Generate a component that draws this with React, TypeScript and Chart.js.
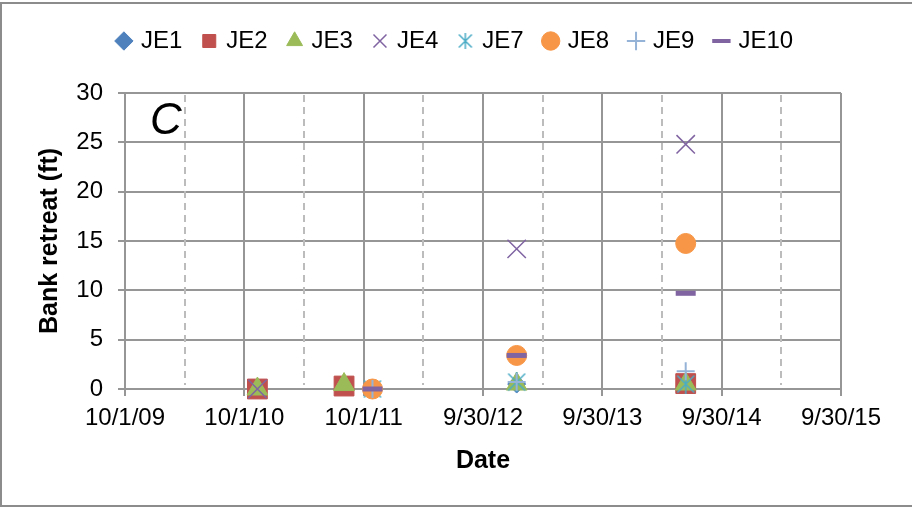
import React, { useEffect, useRef } from 'react';
import { Chart, registerables } from 'chart.js';

Chart.register(...registerables);

// ---- data ----
const seriesNames = ['JE1', 'JE2', 'JE3', 'JE4', 'JE7', 'JE8', 'JE9', 'JE10'];
const surveyDates = ['2010-11-10', '2011-08-02', '2011-10-28', '2013-01-11', '2014-06-12'];
const je1 = [0, 0.3, null, 0.5, 0.5];
const je2 = [0, 0.3, null, null, 0.55];
const je3 = [0, 0.45, null, 0.5, 0.5];
const je4 = [0, null, null, 14.2, 24.8];
const je7 = [null, null, 0, 0.7, 0.5];
const je8 = [null, null, 0, 3.4, 14.75];
const je9 = [null, null, 0, 0.7, 1.8];
const je10 = [null, null, 0, 3.4, 9.7];
const seriesValues = [je1, je2, je3, je4, je7, je8, je9, je10];

const xTickDates = ['2009-10-01', '2010-10-01', '2011-10-01', '2012-09-30', '2013-09-30', '2014-09-30', '2015-09-30'];
const xTickLabels = ['10/1/09', '10/1/10', '10/1/11', '9/30/12', '9/30/13', '9/30/14', '9/30/15'];
const yTicks = [0, 5, 10, 15, 20, 25, 30];

const toDay = (s: string) => {
  const [y, m, d] = s.split('-').map(Number);
  return Date.UTC(y, m - 1, d) / 86400000;
};

// ---- styles ----
const FONT = "'Liberation Sans', Arial, sans-serif";
const GRID = '#969696';
const markerStyles = [
  { style: 'rectRot', radius: 9, color: '#4f81bd', width: 1 },
  { style: 'rect', radius: 14, color: '#c0504d', width: 1 },
  { style: 'triangle', radius: 12, color: '#9bbb59', width: 1 },
  { style: 'crossRot', radius: 13, color: '#8064a2', width: 1.5 },
  { style: 'star', radius: 10, color: '#4bacc6', width: 1.5 },
  { style: 'circle', radius: 10, color: '#f79646', width: 1 },
  { style: 'cross', radius: 9, color: '#95b3d7', width: 2 },
  { style: 'line', radius: 10, color: '#8064a2', width: 5 },
];

function makeStar(size: number, color: string, lw: number) {
  const c = document.createElement('canvas');
  c.width = size;
  c.height = size;
  const g = c.getContext('2d')!;
  g.strokeStyle = color;
  g.lineWidth = lw;
  const m = size / 2;
  const e = 1.5;
  g.beginPath();
  g.moveTo(m, 0);
  g.lineTo(m, size);
  g.moveTo(e, e);
  g.lineTo(size - e, size - e);
  g.moveTo(size - e, e);
  g.lineTo(e, size - e);
  g.stroke();
  return c;
}

export default function App() {
  const ref = useRef<HTMLCanvasElement>(null);

  useEffect(() => {
    document.body.style.margin = '0';
    const canvas = ref.current!;
    const xTicks = xTickDates.map(toDay);
    const xDays = surveyDates.map(toDay);
    const starBig = makeStar(20, '#4bacc6', 1.5);
    const starSmall = makeStar(16, '#4bacc6', 1.5);

    const datasets = seriesNames.map((name, i) => {
      const ms = markerStyles[i];
      const data = seriesValues[i]
        .map((v, j) => (v === null ? null : { x: xDays[j], y: v }))
        .filter((p) => p !== null);
      return {
        label: name,
        data,
        showLine: false,
        pointStyle: ms.style === 'star' ? starBig : ms.style,
        pointRadius: ms.radius,
        pointHoverRadius: ms.radius,
        backgroundColor: ms.color,
        borderColor: ms.color,
        pointBorderWidth: ms.width,
        borderWidth: ms.width,
        order: seriesNames.length - i,
        clip: false as any,
      };
    });

    const legendWidths = [1, 1, 1, 1.5, 1.5, 1, 2, 4];

    const decor = {
      id: 'decor',
      beforeDatasetsDraw(chart: any) {
        const { ctx, chartArea } = chart;
        const xs = chart.scales.x;
        ctx.save();
        ctx.strokeStyle = '#bcbcbc';
        ctx.lineWidth = 2;
        ctx.setLineDash([7, 5]);
        for (let i = 0; i < xTicks.length - 1; i++) {
          const px = Math.round(xs.getPixelForValue((xTicks[i] + xTicks[i + 1]) / 2));
          ctx.beginPath();
          ctx.moveTo(px, chartArea.top + 2);
          ctx.lineTo(px, chartArea.bottom - 4);
          ctx.stroke();
        }
        ctx.restore();
        ctx.save();
        ctx.fillStyle = '#000';
        ctx.font = `italic 44px ${FONT}`;
        ctx.textAlign = 'center';
        ctx.textBaseline = 'middle';
        ctx.fillText('C', chartArea.left + 41, chartArea.top + 29);
        ctx.restore();
      },
      afterDraw(chart: any) {
        const { ctx } = chart;
        ctx.save();
        ctx.strokeStyle = '#8c8c8c';
        ctx.lineWidth = 2;
        ctx.strokeRect(1, 3, 920, 503);
        ctx.restore();
      },
    };

    const chart = new Chart(canvas, {
      type: 'scatter',
      data: { datasets: datasets as any },
      plugins: [decor],
      options: {
        animation: false,
        responsive: false,
        devicePixelRatio: 1,
        layout: { padding: { top: 7, right: 0, bottom: 0, left: 0 } },
        plugins: {
          tooltip: { enabled: false },
          legend: {
            position: 'top',
            labels: {
              color: '#000',
              font: { family: FONT, size: 24 },
              usePointStyle: true,
              boxWidth: 10,
              boxHeight: 13,
              padding: 22,
              generateLabels: (ch: any) =>
                ch.data.datasets.map((ds: any, i: number) => ({
                  text: ds.label,
                  fillStyle: ds.backgroundColor,
                  strokeStyle: ds.borderColor,
                  lineWidth: legendWidths[i],
                  pointStyle: markerStyles[i].style === 'star' ? starSmall : ds.pointStyle,
                  hidden: false,
                  datasetIndex: i,
                  fontColor: '#000',
                })),
            },
          },
        },
        scales: {
          x: {
            type: 'linear',
            position: 'bottom',
            min: xTicks[0],
            max: xTicks[xTicks.length - 1],
            afterBuildTicks: (s: any) => {
              s.ticks = xTicks.map((v) => ({ value: v }));
            },
            afterFit: (s: any) => {
              s.height = 119;
            },
            grid: { color: GRID, lineWidth: 2, tickLength: 7, drawTicks: true },
            border: { color: GRID, width: 2 },
            ticks: {
              color: '#000',
              font: { family: FONT, size: 24 },
              padding: 8,
              autoSkip: false,
              maxRotation: 0,
              callback: (_v: any, i: number) => xTickLabels[i],
            },
            title: {
              display: true,
              text: 'Date',
              color: '#000',
              font: { family: FONT, size: 25, weight: 'bold' },
              padding: { top: 0, bottom: 32 },
            },
          },
          y: {
            type: 'linear',
            position: 'left',
            min: 0,
            max: 30,
            afterBuildTicks: (s: any) => {
              s.ticks = yTicks.map((v) => ({ value: v }));
            },
            afterFit: (s: any) => {
              s.width = 125;
            },
            grid: { color: GRID, lineWidth: 2, tickLength: 7, drawTicks: true },
            border: { color: GRID, width: 2 },
            ticks: {
              color: '#000',
              font: { family: FONT, size: 24 },
              padding: 15,
            },
            title: {
              display: true,
              text: 'Bank retreat (ft)',
              color: '#000',
              font: { family: FONT, size: 25, weight: 'bold' },
              padding: { top: 35, bottom: 0 },
            },
          },
          xTop: {
            type: 'linear',
            axis: 'x',
            position: 'top',
            display: true,
            grid: { display: false, drawTicks: false },
            border: { display: false },
            ticks: { display: false },
            afterFit: (s: any) => {
              s.height = 30;
            },
          },
          yRight: {
            type: 'linear',
            axis: 'y',
            position: 'right',
            display: true,
            grid: { display: false, drawTicks: false },
            border: { display: false },
            ticks: { display: false },
            afterFit: (s: any) => {
              s.width = 71;
            },
          },
        } as any,
      },
    });
    return () => chart.destroy();
  }, []);

  return (
    <div style={{ width: 912, height: 508, position: 'relative' }}>
      <canvas ref={ref} width={912} height={508} style={{ display: 'block', width: 912, height: 508 }} />
    </div>
  );
}
